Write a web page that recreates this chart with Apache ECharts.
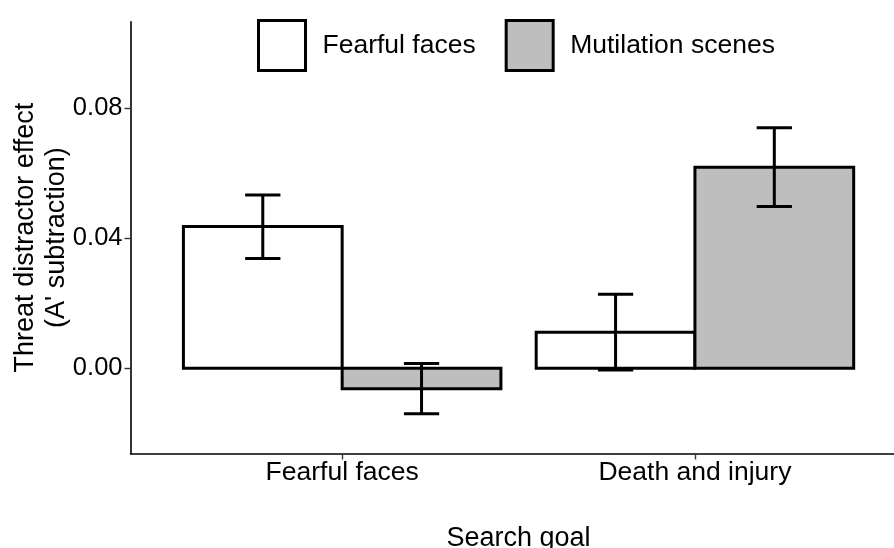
<!DOCTYPE html>
<html>
<head>
<meta charset="utf-8">
<script src="https://cdn.jsdelivr.net/npm/echarts@6/dist/echarts.min.js"></script>
<style>
html,body{margin:0;padding:0;background:#fff;}
#chart{width:894px;height:548px;}
</style>
</head>
<body>
<div id="chart"></div>
<script>
// ---- data ----
const categories = ['Fearful faces', 'Death and injury'];
const seriesNames = ['Fearful faces', 'Mutilation scenes'];
const fearfulMeans = [0.0436, 0.0111];
const fearfulLower = [0.0338, -0.0005];
const fearfulUpper = [0.0533, 0.0228];
const mutilMeans = [-0.0063, 0.0618];
const mutilLower = [-0.0140, 0.0498];
const mutilUpper = [0.0015, 0.0740];
const yTicks = [0, 0.04, 0.08];

// ---- styling ----
const FONT = "'Liberation Sans', Arial, sans-serif";
const HALF_BAR = 0.225;   // dodge: each bar 0.45 category units
const HALF_CAP = 0.05;    // errorbar width 0.1
const fills = ['#ffffff', '#bebebe'];
const offsets = [-HALF_BAR, HALF_BAR];

function barRender(k) {
  return function (params, api) {
    const x = api.value(0) + offsets[k];
    const v = api.value(1);
    const p1 = api.coord([x - HALF_BAR, v]);
    const p2 = api.coord([x + HALF_BAR, 0]);
    return {
      type: 'rect',
      shape: {
        x: Math.min(p1[0], p2[0]), y: Math.min(p1[1], p2[1]),
        width: Math.abs(p2[0] - p1[0]), height: Math.abs(p2[1] - p1[1])
      },
      style: { fill: fills[k], stroke: '#000', lineWidth: 3 }
    };
  };
}
function errRender(k) {
  return function (params, api) {
    const x = api.value(0) + offsets[k];
    const lo = api.value(1), hi = api.value(2);
    const a = api.coord([x, lo]), b = api.coord([x, hi]);
    const cl = api.coord([x - HALF_CAP, lo]), cr = api.coord([x + HALF_CAP, lo]);
    const tl = api.coord([x - HALF_CAP, hi]), tr = api.coord([x + HALF_CAP, hi]);
    const st = { stroke: '#000', lineWidth: 3, lineCap: 'butt' };
    return {
      type: 'group',
      children: [
        { type: 'line', shape: { x1: a[0], y1: a[1], x2: b[0], y2: b[1] }, style: st },
        { type: 'line', shape: { x1: cl[0], y1: cl[1], x2: cr[0], y2: cr[1] }, style: st },
        { type: 'line', shape: { x1: tl[0], y1: tl[1], x2: tr[0], y2: tr[1] }, style: st }
      ]
    };
  };
}

const means = [fearfulMeans, mutilMeans];
const lowers = [fearfulLower, mutilLower];
const uppers = [fearfulUpper, mutilUpper];

const series = [];
for (let k = 0; k < 2; k++) {
  series.push({
    name: seriesNames[k],
    type: 'custom',
    renderItem: barRender(k),
    itemStyle: { color: fills[k], borderColor: '#000', borderWidth: 3 },
    encode: { x: 0, y: 1 },
    data: categories.map((c, i) => [i + 1, means[k][i]]),
    z: 2, silent: true
  });
}
for (let k = 0; k < 2; k++) {
  series.push({
    name: 'err' + k,
    type: 'custom',
    renderItem: errRender(k),
    encode: { x: 0, y: [1, 2] },
    data: categories.map((c, i) => [i + 1, lowers[k][i], uppers[k][i]]),
    z: 3, silent: true
  });
}

const chart = echarts.init(document.getElementById('chart'), null, { renderer: 'canvas' });
chart.setOption({
  backgroundColor: '#fff',
  animation: false,
  textStyle: { fontFamily: FONT, color: '#000' },
  grid: { left: 130.5, right: -12.6, top: 21.7, bottom: 94.5, containLabel: false, outerBoundsMode: 'none' },
  legend: {
    data: seriesNames.map((n, k) => ({
      name: n, icon: 'rect',
      itemStyle: { color: fills[k], borderColor: '#000', borderWidth: 3 }
    })),
    left: 257, top: 19, padding: 0,
    itemWidth: 47, itemHeight: 50, itemGap: 29,
    selectedMode: false,
    textStyle: { fontFamily: FONT, fontSize: 26.5, color: '#000', padding: [0, 0, 0, 12] }
  },
  xAxis: {
    type: 'value', min: 0.4, max: 2.6,
    name: 'Search goal', nameLocation: 'middle', nameGap: 72, nameMoveOverlap: false,
    nameTextStyle: { fontFamily: FONT, fontSize: 27, color: '#000' },
    axisLine: { show: true, onZero: false, lineStyle: { color: '#000', width: 1.6 } },
    axisTick: { show: true, length: 6, customValues: [1, 2], lineStyle: { color: '#333', width: 1.4 } },
    axisLabel: {
      customValues: [1, 2], margin: 6,
      fontFamily: FONT, fontSize: 26.5, color: '#000',
      formatter: v => categories[Math.round(v) - 1] || ''
    },
    splitLine: { show: false }
  },
  yAxis: {
    type: 'value', min: -0.0262, max: 0.1066,
    name: "Threat distractor effect\n(A' subtraction)",
    nameLocation: 'middle', nameRotate: 90, nameGap: 58, nameMoveOverlap: false,
    nameTextStyle: { fontFamily: FONT, fontSize: 27, color: '#000', lineHeight: 31, align: 'center' },
    axisLine: { show: true, lineStyle: { color: '#000', width: 1.6 } },
    axisTick: { show: true, length: 6, customValues: yTicks, lineStyle: { color: '#333', width: 1.4 } },
    axisLabel: {
      customValues: yTicks, margin: 8,
      fontFamily: FONT, fontSize: 25.5, color: '#000',
      formatter: v => Number(v).toFixed(2)
    },
    splitLine: { show: false }
  },
  series: series
});
</script>
</body>
</html>
